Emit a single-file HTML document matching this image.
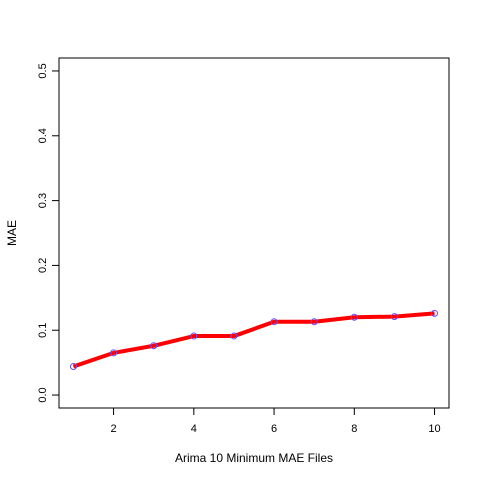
<!DOCTYPE html>
<html><head><meta charset="utf-8"><style>body{margin:0;background:#fff}svg{display:block;font-family:"Liberation Sans",Arial,sans-serif}</style></head>
<body>
<svg id="chart" width="480" height="480">
<rect x="0" y="0" width="480" height="480" fill="#fff"/>
</svg>
<script>
const categories=[1,2,3,4,5,6,7,8,9,10];
const maeValues=[0.044,0.065,0.076,0.091,0.091,0.113,0.113,0.120,0.121,0.126];
const xTicks=[2,4,6,8,10];
const yTicks=[0.0,0.1,0.2,0.3,0.4,0.5];
const L=59,R=449,T=58,B=408;
const xmin=0.64,xmax=10.36,ymin=-0.02,ymax=0.52;
const sx=v=>L+(v-xmin)/(xmax-xmin)*(R-L);
const sy=v=>B-(v-ymin)/(ymax-ymin)*(B-T);
const svg=document.getElementById('chart');
const NS='http://www.w3.org/2000/svg';
function mk(tag,attrs,txt){const e=document.createElementNS(NS,tag);for(const k in attrs)e.setAttribute(k,attrs[k]);if(txt!==undefined)e.textContent=txt;svg.appendChild(e);return e;}
let e=mk('rect',{x:L,y:T,width:R-L,height:B-T,fill:'none',stroke:'#000','stroke-width':1});


xTicks.forEach(t=>{
 let l=mk('line',{x1:sx(t),x2:sx(t),y1:B,y2:B+7,stroke:'#000'});
 
 
 let tx=mk('text',{x:sx(t),y:432,'font-size':11,'text-anchor':'middle'},String(t));
 
 
});
let xa=mk('line',{x1:sx(2),x2:sx(10),y1:B,y2:B,stroke:'#000'});


yTicks.forEach(t=>{
 let l=mk('line',{x1:L-7,x2:L,y1:sy(t),y2:sy(t),stroke:'#000'});
 
 
 let tx=mk('text',{x:0,y:0,'font-size':11,'text-anchor':'middle',transform:`translate(46,${sy(t)}) rotate(-90)`},t.toFixed(1));
 
 
});
let xl=mk('text',{x:254,y:462,'font-size':12,'text-anchor':'middle'},'Arima 10 Minimum MAE Files');


let yl=mk('text',{x:0,y:0,'font-size':12,'text-anchor':'middle',transform:`translate(16,233) rotate(-90)`},'MAE');


const pts=categories.map((c,i)=>sx(c)+','+sy(maeValues[i])).join(' ');
let pl=mk('polyline',{points:pts,fill:'none',stroke:'#ff0000','stroke-width':4,'stroke-linejoin':'round'});


categories.forEach((c,i)=>{
 let p=mk('circle',{cx:sx(c),cy:sy(maeValues[i]),r:3,fill:'none',stroke:'#6a4cff','stroke-width':1});
 
 
});
</script>
</body></html>
